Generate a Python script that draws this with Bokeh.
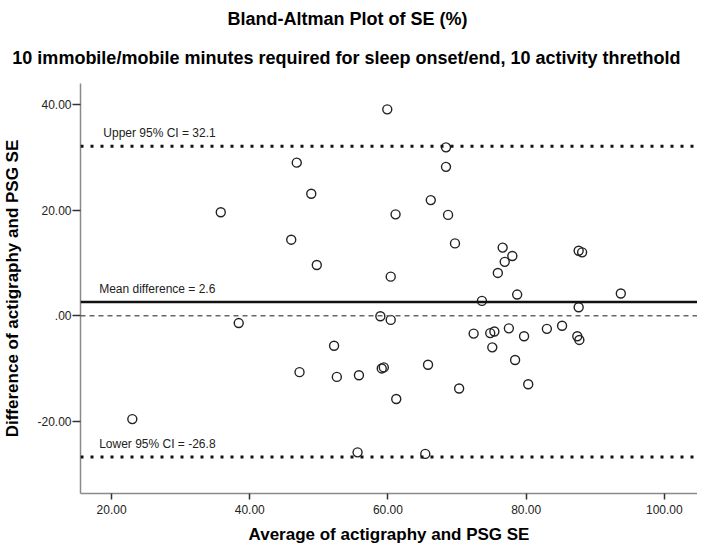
from bokeh.plotting import figure
from bokeh.models import Title, Span, Label, FixedTicker, Range1d
from bokeh.embed import file_html
from bokeh.resources import INLINE

# ---- data ----
avg_se = [23.0, 38.4, 52.2, 47.2, 52.6, 55.8, 55.6, 35.8, 46.8, 48.9,
          46.0, 49.7, 59.9, 68.4, 68.4, 66.2, 61.1, 68.7, 69.7, 76.6,
          78.0, 76.9, 75.9, 60.4, 87.6, 88.1, 78.7, 93.7, 73.6, 87.6,
          58.9, 60.4, 72.4, 74.8, 75.4, 77.5, 79.7, 83.0, 85.2, 87.4,
          87.7, 75.1, 78.4, 59.1, 59.4, 65.8, 80.3, 70.3, 61.2, 65.4]
diff_se = [-19.6, -1.4, -5.7, -10.7, -11.6, -11.3, -25.9, 19.6, 29.0, 23.1,
           14.4, 9.6, 39.1, 31.9, 28.2, 21.9, 19.2, 19.1, 13.7, 12.9,
           11.3, 10.2, 8.1, 7.4, 12.3, 12.0, 4.0, 4.2, 2.8, 1.6,
           -0.1, -0.8, -3.4, -3.3, -3.0, -2.4, -3.9, -2.5, -1.9, -3.9,
           -4.6, -6.0, -8.4, -10.0, -9.8, -9.3, -13.0, -13.8, -15.8, -26.2]
mean_diff = 2.6
upper_ci = 32.1
lower_ci = -26.8
x_ticks = [20, 40, 60, 80, 100]
x_tick_labels = ["20.00", "40.00", "60.00", "80.00", "100.00"]
y_ticks = [-20, 0, 20, 40]
y_tick_labels = ["-20.00", ".00", "20.00", "40.00"]

FONT = "Liberation Sans"

p = figure(width=697, height=546, output_backend="svg", toolbar_location=None,
           x_range=Range1d(15.5, 104.8), y_range=Range1d(-33.7, 44.0),
           min_border_left=78, min_border_right=0, min_border_top=83,
           min_border_bottom=0)
p.outline_line_color = None
p.xgrid.visible = False
p.ygrid.visible = False
p.background_fill_color = "white"
p.border_fill_color = "white"

sub = Title(text="10 immobile/mobile minutes required for sleep onset/end, 10 activity threthold",
            align="right", offset=17, text_font=FONT, text_font_size="18px",
            text_font_style="bold", text_color="black", standoff=31, vertical_align="bottom")
p.add_layout(sub, "above")
main = Title(text="Bland-Altman Plot of SE (%)", align="right", offset=230, text_font=FONT,
             text_font_size="18px", text_font_style="bold", text_color="black", standoff=0,
             vertical_align="top")
p.add_layout(main, "above")

for ax in (p.xaxis[0], p.yaxis[0]):
    ax.axis_line_color = "#8a8a8a"
    ax.axis_line_width = 1.5
    ax.major_tick_line_color = "#333333"
    ax.major_tick_line_width = 1.5
    ax.major_tick_in = 0
    ax.minor_tick_line_color = None
    ax.major_label_text_font = FONT
    ax.major_label_text_font_size = "12px"
    ax.major_label_text_color = "#222222"
    ax.axis_label_text_font = FONT
    ax.axis_label_text_font_size = "17px"
    ax.axis_label_text_font_style = "bold"
    ax.axis_label_text_color = "black"

p.xaxis.ticker = FixedTicker(ticks=x_ticks)
p.xaxis.major_label_overrides = dict(zip(x_ticks, x_tick_labels))
p.yaxis.ticker = FixedTicker(ticks=y_ticks)
p.yaxis.major_label_overrides = dict(zip(y_ticks, y_tick_labels))
p.xaxis.axis_label = "Average of actigraphy and PSG SE"
p.yaxis.axis_label = "Difference of actigraphy and PSG SE"
p.xaxis.major_tick_out = 6
p.yaxis.major_tick_out = 8
p.xaxis.major_label_standoff = 5
p.yaxis.major_label_standoff = 1
p.xaxis.axis_label_standoff = 8
p.yaxis.axis_label_standoff = 12

p.add_layout(Span(location=0, dimension="width", line_color="#666666",
                  line_width=1.5, line_dash="5 4"))
p.add_layout(Span(location=mean_diff, dimension="width", line_color="#111111",
                  line_width=2.5))
p.add_layout(Span(location=upper_ci, dimension="width", line_color="#111111",
                  line_width=3, line_dash="3 7"))
p.add_layout(Span(location=lower_ci, dimension="width", line_color="#111111",
                  line_width=3, line_dash="3 7"))

p.scatter(avg_se, diff_se, marker="circle", size=9, fill_color=None,
          line_color="#222222", line_width=1.4)

for xpos, ypos, txt in [(18.8, upper_ci, f"Upper 95% CI = {upper_ci:.1f}"),
                        (18.2, mean_diff, f"Mean difference = {mean_diff:.1f}"),
                        (18.2, lower_ci, f"Lower 95% CI = {lower_ci:.1f}")]:
    p.add_layout(Label(x=xpos, y=ypos, text=txt, y_offset=6, text_baseline="bottom",
                       text_font=FONT, text_font_size="12px", text_color="#222222"))

open("out.html", "w").write(file_html(p, INLINE))
